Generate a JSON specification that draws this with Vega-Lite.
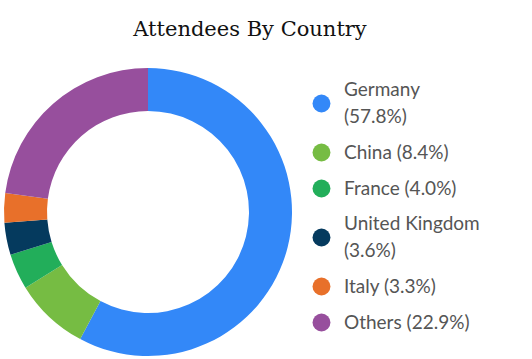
{
  "$schema": "https://vega.github.io/schema/vega-lite/v6.json",
  "autosize": {"type": "none"},
  "width": 296,
  "height": 290,
  "padding": {"left": 0, "top": 67, "right": 236, "bottom": 2},
  "background": "white",
  "title": {
    "text": "Attendees By Country",
    "font": "DejaVu Serif",
    "fontSize": 21,
    "fontWeight": "normal",
    "color": "#111111",
    "anchor": "middle",
    "dx": 102,
    "offset": 27
  },
  "data": {
    "values": [
      {"country": "Germany", "label": "Germany|(57.8%)", "pct": 57.8, "idx": 1},
      {"country": "China", "label": "China (8.4%)", "pct": 8.4, "idx": 2},
      {"country": "France", "label": "France (4.0%)", "pct": 4.0, "idx": 3},
      {"country": "United Kingdom", "label": "United Kingdom|(3.6%)", "pct": 3.6, "idx": 4},
      {"country": "Italy", "label": "Italy (3.3%)", "pct": 3.3, "idx": 5},
      {"country": "Others", "label": "Others (22.9%)", "pct": 22.9, "idx": 6}
    ]
  },
  "mark": {"type": "arc", "outerRadius": 144, "innerRadius": 101},
  "encoding": {
    "theta": {"field": "pct", "type": "quantitative", "stack": true},
    "order": {"field": "idx", "type": "quantitative"},
    "color": {
      "field": "label",
      "type": "nominal",
      "scale": {
        "domain": ["Germany|(57.8%)", "China (8.4%)", "France (4.0%)", "United Kingdom|(3.6%)", "Italy (3.3%)", "Others (22.9%)"],
        "range": ["#3388f8", "#76bc43", "#22ae5a", "#053a5e", "#e8702a", "#974f9d"]
      },
      "legend": {
        "title": null,
        "orient": "none",
        "legendX": 312,
        "legendY": 27,
        "symbolType": "circle",
        "symbolSize": 320,
        "symbolStrokeWidth": 0,
        "symbolOpacity": 1,
        "labelFont": "Lato",
        "labelFontSize": 19,
        "labelColor": "#555555",
        "labelOffset": 13,
        "labelLimit": 300,
        "rowPadding": 16,
        "labelExpr": "split(datum.label, '|')",
        "encode": {"labels": {"update": {
          "lineHeight": {"value": 27},
          "dy": {"signal": "indexof(datum.label, '|') >= 0 ? -13.5 : 0"}
        }}}
      }
    }
  }
}
